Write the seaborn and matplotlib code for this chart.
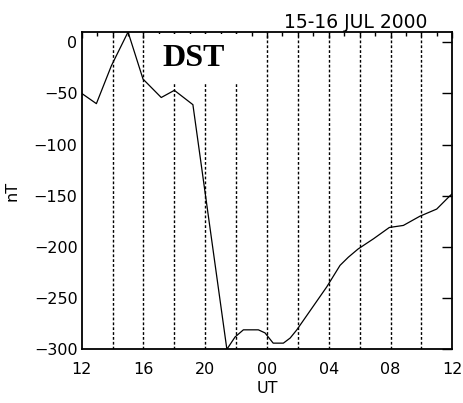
import matplotlib
matplotlib.use("Agg")
import matplotlib.pyplot as plt
from matplotlib.patches import Rectangle
from matplotlib.ticker import FixedLocator, MultipleLocator
import seaborn as sns

sns.set_theme(style="white")
plt.rcParams['font.family'] = ['DejaVu Sans']
plt.rcParams['text.color'] = 'black'

# hours since 00 UT, 15 July 2000
hours = [12.0, 12.95, 13.92, 15.0, 15.97, 17.15, 18.0, 19.2, 21.4, 21.93,
         22.47, 23.44, 23.87, 24.4, 25.06, 25.5, 25.93, 26.9, 27.87, 28.73,
         29.27, 29.9, 30.9, 31.92, 32.83, 33.9, 34.99, 35.85, 36.0]
dst = [-50, -60, -23, 10, -36, -54, -47, -61, -300, -288,
       -281, -281, -284, -294, -294, -289, -281, -260, -239, -218,
       -210, -202, -192, -181, -179, -170, -163, -150, -148]

grid_hours = [14, 16, 18, 20, 22, 24, 26, 28, 30, 32, 34]
xtick_pos = [12, 16, 20, 24, 28, 32, 36]
xtick_labels = ["12", "16", "20", "00", "04", "08", "12"]
ytick_pos = [0, -50, -100, -150, -200, -250, -300]

fig = plt.figure(figsize=(4.63, 4.03), dpi=100)
ax = fig.add_axes([0.1765, 0.1333, 0.8004, 0.7873])

for g in grid_hours:
    ax.axvline(g, color="black", lw=1.0, ls=(0, (2.0, 1.5)), zorder=1)

ax.add_patch(Rectangle((0.185, 0.835), 0.25, 0.16, transform=ax.transAxes,
                       facecolor="white", edgecolor="none", zorder=2))
ax.text(0.303, 0.918, "DST", transform=ax.transAxes, ha="center", va="center",
        fontsize=23, fontweight="bold", family=["Liberation Serif"],
        color="black", zorder=2.5)

sns.lineplot(x=hours, y=dst, ax=ax, color="black", lw=0.9, zorder=3,
             estimator=None, sort=False)

ax.set_xlim(12, 36)
ax.set_ylim(-300, 10)
ax.xaxis.set_major_locator(FixedLocator(xtick_pos))
ax.set_xticklabels(xtick_labels)
ax.xaxis.set_minor_locator(MultipleLocator(1))
ax.yaxis.set_major_locator(FixedLocator(ytick_pos))

ax.tick_params(axis="both", which="both", direction="in", top=True, right=True,
               colors="black", labelsize=11.5)
ax.tick_params(axis="x", which="major", length=4, width=1.0, pad=9)
ax.tick_params(axis="x", which="minor", length=3, width=1.0)
ax.tick_params(axis="y", which="major", length=7, width=1.0, pad=3)

for s in ax.spines.values():
    s.set_color("black")
    s.set_linewidth(1.3)

ax.set_xlabel("UT", fontsize=11.5, color="black", labelpad=3)
ax.set_ylabel("nT", fontsize=11.5, color="black", labelpad=10)

fig.text(427 / 463, 1 - 28 / 403, "15-16 JUL 2000", ha="right", va="baseline",
         fontsize=13.5, color="black")

fig.savefig("out.png", dpi=100, facecolor="white")
